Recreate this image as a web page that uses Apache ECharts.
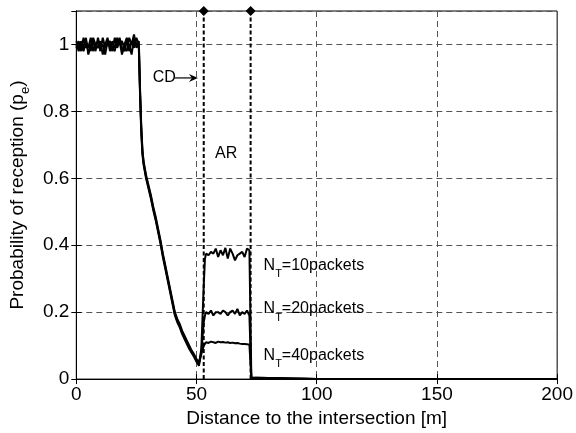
<!DOCTYPE html>
<html>
<head>
<meta charset="utf-8">
<script src="https://cdn.jsdelivr.net/npm/echarts@6/dist/echarts.min.js"></script>
<style>html,body{margin:0;padding:0;background:#fff}#c{width:576px;height:433px}</style>
</head>
<body>
<div id="c"></div>
<script>
// ---- data ----
const distance = [0,1,2,3,4,5,6,7,8,9,10,11,12,13,14,15,16,17,18,19,20,21,22,23,24,25,
  26,26.5,27,27.5,28,29,30,31,32,33,34,35,36,37,38,39,40,41,42,43,44,45,46,47,48,49,50,51,
  52,53,
  53.5,54,55,56,57,58,59,60,61,62,63,64,65,66,67,68,69,70,71,72,
  72.8,75,80,85,90,95,100,150,200];

const pe10 = [1.00,0.98,1.01,0.99,1.02,0.97,1.00,1.01,0.98,1.02,0.99,1.00,0.97,1.01,1.00,0.98,1.02,0.99,1.01,0.97,1.00,1.02,0.98,1.01,0.99,1.02,
  1.00,0.86,0.75,0.68,0.645,0.605,0.575,0.545,0.51,0.48,0.445,0.41,0.37,0.335,0.30,0.265,0.23,0.195,0.175,0.16,0.14,0.125,0.11,0.095,0.08,0.07,0.055,0.045,
  0.09,0.28,
  0.36,0.375,0.37,0.38,0.375,0.39,0.365,0.385,0.37,0.392,0.36,0.39,0.375,0.355,0.37,0.375,0.38,0.365,0.39,0.385,
  0.004,0.004,0.003,0.003,0.002,0.001,0,0,0];

const pe20 = [0.99,1.01,0.98,1.02,0.99,1.00,0.98,1.02,1.00,0.99,1.01,0.97,1.00,1.02,0.98,1.01,0.99,1.00,1.02,0.99,0.98,1.01,1.00,0.97,1.02,1.00,
  0.99,0.85,0.74,0.67,0.64,0.60,0.57,0.54,0.505,0.475,0.44,0.405,0.365,0.33,0.295,0.26,0.225,0.19,0.17,0.155,0.135,0.12,0.105,0.09,0.078,0.066,0.052,0.04,
  0.08,0.17,
  0.19,0.2,0.195,0.205,0.19,0.2,0.2,0.195,0.205,0.2,0.19,0.2,0.205,0.195,0.21,0.19,0.2,0.195,0.205,0.19,
  0.003,0.004,0.003,0.002,0.002,0.001,0,0,0];

const pe40 = [1.01,0.99,1.00,0.98,1.01,0.99,1.02,0.98,1.00,1.01,0.98,1.02,0.99,1.00,1.01,0.99,0.98,1.02,1.00,1.01,0.99,0.98,1.02,1.00,1.03,0.99,
  1.01,0.87,0.76,0.685,0.65,0.61,0.58,0.55,0.515,0.485,0.45,0.415,0.375,0.34,0.305,0.27,0.235,0.2,0.18,0.165,0.145,0.13,0.115,0.1,0.085,0.074,0.06,0.05,
  0.075,0.1,
  0.105,0.11,0.108,0.112,0.11,0.108,0.112,0.11,0.111,0.109,0.11,0.108,0.109,0.107,0.108,0.106,0.105,0.105,0.104,0.103,
  0.003,0.003,0.002,0.002,0.001,0.001,0,0,0];

const markerX = [53, 72.5];          // AR boundaries (dashed lines with diamonds)
const xTicks = [0, 50, 100, 150, 200];
const yTicks = [0, 0.2, 0.4, 0.6, 0.8, 1];
const seriesNames = ['N_T=10packets', 'N_T=20packets', 'N_T=40packets'];

// ---- chart ----
const FONT = 'Liberation Sans, Arial, Helvetica, sans-serif';
const chart = echarts.init(document.getElementById('c'), null, {renderer: 'canvas'});

function pairs(ys) { return distance.map((d, i) => [d, ys[i]]); }

const curveSeries = [pe10, pe20, pe40].map((ys, k) => ({
  name: seriesNames[k], type: 'line', data: pairs(ys), symbol: 'none',
  lineStyle: {color: '#000', width: 2}, animation: false, z: 3
}));

const markerSeries = markerX.map(x => ({
  type: 'line', symbol: 'diamond', symbolSize: 10, clip: false, animation: false,
  data: [{value: [x, 0], symbol: 'none'}, {value: [x, 1.1]}],
  itemStyle: {color: '#000'},
  lineStyle: {color: '#000', width: 2, type: [4, 2.5]}, z: 4
}));

const gridDash = {show: true, lineStyle: {color: '#555', width: 1, type: [6, 4]}};

chart.setOption({
  animation: false,
  backgroundColor: '#fff',
  grid: {left: 74, right: 17, top: 11, bottom: 46, show: true, borderColor: '#000', borderWidth: 1},
  xAxis: [{
    type: 'value', min: 0, max: 200, interval: 50,
    name: 'Distance to the intersection [m]', nameLocation: 'middle', nameGap: 27,
    nameTextStyle: {fontFamily: FONT, fontSize: 19, color: '#000'},
    axisLine: {show: true, lineStyle: {color: '#000', width: 1}},
    axisTick: {show: true, inside: true, length: 5, lineStyle: {color: '#000'}},
    axisLabel: {fontFamily: FONT, fontSize: 19, color: '#000', margin: 6,
      formatter: v => xTicks.includes(v) ? String(v) : ''},
    splitLine: gridDash
  }, {
    type: 'value', position: 'top', min: 0, max: 200, interval: 50,
    axisLine: {show: true, lineStyle: {color: '#000'}},
    axisTick: {show: true, inside: true, length: 5, lineStyle: {color: '#000'}},
    axisLabel: {show: false}, splitLine: {show: false}
  }],
  yAxis: [{
    type: 'value', min: 0, max: 1.1, interval: 0.2,
    name: 'Probability of reception (p{e|e})', nameLocation: 'middle', nameGap: 44,
    nameTextStyle: {fontFamily: FONT, fontSize: 19, color: '#000',
      rich: {e: {fontFamily: FONT, fontSize: 13, color: '#000', padding: [16, 0, 0, 0]}}},
    axisLine: {show: true, lineStyle: {color: '#000', width: 1}},
    axisTick: {show: true, inside: true, length: 5, lineStyle: {color: '#000'}},
    axisLabel: {fontFamily: FONT, fontSize: 19, color: '#000', margin: 7, showMaxLabel: false,
      formatter: v => yTicks.some(t => Math.abs(t - v) < 1e-9) ? String(+v.toFixed(1)) : ''},
    splitLine: {show: true, lineStyle: {color: '#555', width: 1, type: [6, 4]}}
  }, {
    type: 'value', position: 'right', min: 0, max: 1.1, interval: 0.2,
    axisLine: {show: true, lineStyle: {color: '#000'}},
    axisTick: {show: true, inside: true, length: 5, lineStyle: {color: '#000'}},
    axisLabel: {show: false}, splitLine: {show: false}
  }],
  series: curveSeries.concat(markerSeries)
});

// ---- annotations placed in data coordinates ----
function px(x, y) { return chart.convertToPixel({xAxisIndex: 0, yAxisIndex: 0}, [x, y]); }
const ANN = 16;
function subText(main, sub, rest, x, y) {
  const p = px(x, y);
  return {
    type: 'text', x: p[0], y: p[1], z: 10,
    style: {
      text: main + '{s|' + sub + '}' + rest,
      fontFamily: FONT, fontSize: ANN, fill: '#000',
      align: 'left', verticalAlign: 'middle',
      rich: {s: {fontFamily: FONT, fontSize: 11, fill: '#000', padding: [18, 0, 0, 0]}}
    }
  };
}
const cd = px(31.8, 0.9), a0 = px(40.8, 0.9), a1 = px(50.6, 0.9), ar = px(57.7, 0.675);
chart.setOption({
  graphic: [
    subText('N', 'T', '=10packets', 77.9, 0.340),
    subText('N', 'T', '=20packets', 77.9, 0.211),
    subText('N', 'T', '=40packets', 77.9, 0.071),
    {type: 'text', x: ar[0], y: ar[1], z: 10,
      style: {text: 'AR', fontFamily: FONT, fontSize: ANN, fill: '#000', align: 'left', verticalAlign: 'middle'}},
    {type: 'text', x: cd[0], y: cd[1], z: 10,
      style: {text: 'CD', fontFamily: FONT, fontSize: ANN, fill: '#000', align: 'left', verticalAlign: 'middle'}},
    {type: 'line', z: 10, shape: {x1: a0[0], y1: a0[1], x2: a1[0] - 4, y2: a1[1]},
      style: {stroke: '#000', lineWidth: 1.2}},
    {type: 'polygon', z: 10, shape: {points: [[a1[0], a1[1]], [a1[0] - 9, a1[1] - 4], [a1[0] - 6, a1[1]], [a1[0] - 9, a1[1] + 4]]},
      style: {fill: '#000'}}
  ]
});
</script>
</body>
</html>
